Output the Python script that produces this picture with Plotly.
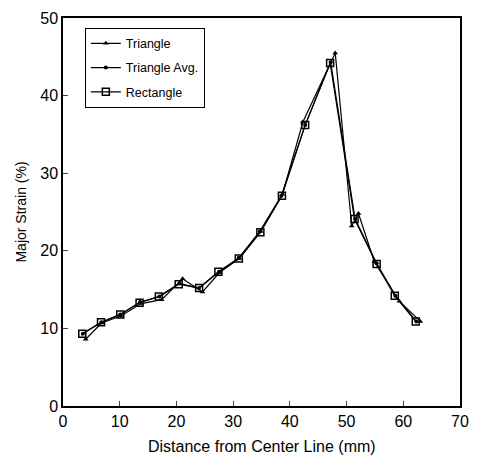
import plotly.graph_objects as go

tri_x = [4.0, 6.8, 10.2, 13.8, 17.4, 21.1, 24.6, 27.6, 31.1, 34.9, 38.7, 42.3, 48.0, 50.9, 52.1, 54.9, 59.3, 63.0]
tri_y = [8.6, 10.7, 11.6, 13.2, 13.7, 16.4, 14.7, 17.2, 19.0, 22.5, 27.3, 36.6, 45.5, 23.2, 24.8, 18.6, 13.5, 10.9]

avg_x = [3.5, 6.8, 10.1, 13.6, 17.0, 20.5, 24.0, 27.5, 31.0, 34.7, 38.5, 42.7, 47.2, 51.5, 55.3, 58.6, 62.3]
avg_y = [9.3, 10.8, 11.8, 13.4, 14.1, 15.8, 15.2, 17.3, 19.1, 22.5, 27.1, 36.2, 44.3, 24.1, 18.4, 14.2, 10.9]

rect_x = [3.4, 6.7, 10.1, 13.5, 16.9, 20.4, 24.0, 27.4, 31.0, 34.8, 38.6, 42.7, 47.1, 51.4, 55.3, 58.5, 62.2]
rect_y = [9.3, 10.8, 11.8, 13.3, 14.1, 15.7, 15.2, 17.3, 19.0, 22.4, 27.1, 36.2, 44.2, 24.1, 18.3, 14.2, 10.9]

x_ticks = [0, 10, 20, 30, 40, 50, 60, 70]
y_ticks = [0, 10, 20, 30, 40, 50]

x_title = "Distance from Center Line (mm)"
y_title = "Major Strain (%)"

fig = go.Figure()
fig.add_trace(go.Scatter(x=tri_x, y=tri_y, name="Triangle", mode="lines+markers",
                         legendgroup="a",
                         line=dict(color="black", width=1.2),
                         marker=dict(symbol="triangle-up", size=5, color="black")))
fig.add_trace(go.Scatter(x=avg_x, y=avg_y, name="Triangle Avg.", mode="lines+markers",
                         legendgroup="b",
                         line=dict(color="black", width=1.2),
                         marker=dict(symbol="circle", size=4, color="black")))
fig.add_trace(go.Scatter(x=rect_x, y=rect_y, name="Rectangle", mode="lines+markers",
                         legendgroup="c",
                         line=dict(color="black", width=1.2),
                         marker=dict(symbol="square-open", size=7, color="black",
                                     line=dict(width=1.5, color="black"))))

fam = "Liberation Sans, Arial, sans-serif"
fig.update_layout(
    width=479, height=461,
    margin=dict(l=63, r=18, t=10, b=55),
    paper_bgcolor="white", plot_bgcolor="white",
    font=dict(family=fam, size=14, color="black"),
    showlegend=True,
    legend=dict(x=0.055, y=0.975, xanchor="left", yanchor="top",
                bordercolor="black", borderwidth=1, bgcolor="white",
                font=dict(family=fam, size=12.5, color="black"),
                tracegroupgap=5, itemwidth=30),
    xaxis=dict(range=[0, 70], tickvals=x_ticks, ticks="inside", ticklen=5,
               tickfont=dict(family=fam, size=16, color="black"),
               showline=True, linecolor="black", linewidth=1.5, mirror=True,
               showgrid=False, zeroline=False),
    yaxis=dict(range=[0, 50], tickvals=y_ticks, ticks="inside", ticklen=5,
               tickfont=dict(family=fam, size=16, color="black"),
               showline=True, linecolor="black", linewidth=1.5, mirror=True,
               showgrid=False, zeroline=False,
               title=dict(text=y_title, standoff=10,
                          font=dict(family=fam, size=14, color="black"))),
    annotations=[dict(text=x_title, x=0.5, y=-0.1035, xref="paper", yref="paper",
                      xanchor="center", yanchor="middle", showarrow=False,
                      font=dict(family=fam, size=16, color="black"))],
)

fig.write_html("out.html")
